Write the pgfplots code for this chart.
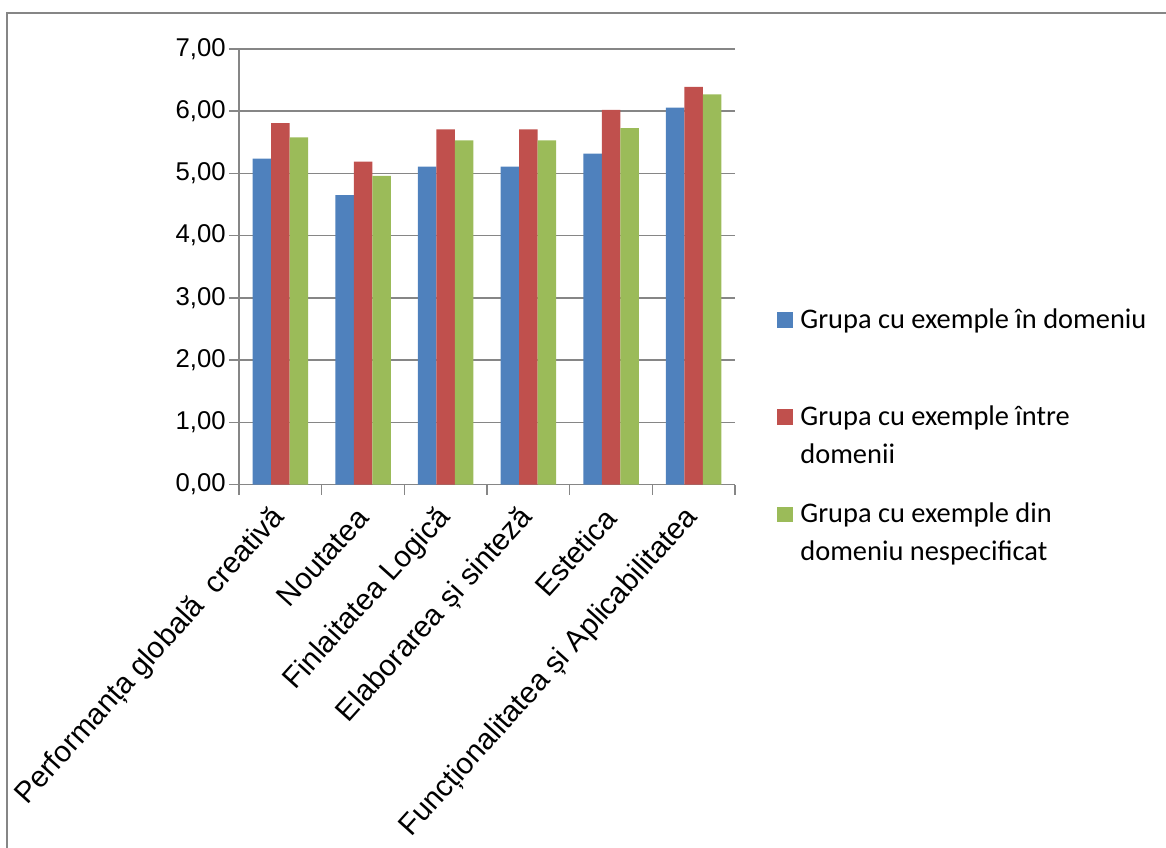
\documentclass[border=0pt]{standalone}
\usepackage{pgfplots}
\pgfplotsset{compat=1.18}
\usepackage{fontspec}
\setmainfont{Liberation Sans}
\newfontfamily\legfont{Carlito}
\definecolor{cblue}{HTML}{4F81BD}
\definecolor{cred}{HTML}{C0504D}
\definecolor{cgreen}{HTML}{9BBB59}
\definecolor{gridc}{HTML}{868686}
\newcommand\twol[2]{\begin{tabular}[t]{@{}l@{}}#1\\#2\end{tabular}}
\pgfplotsset{sqlegend/.style={legend image code/.code={\fill[##1] (0pt,0.3pt) rectangle (7.8pt,8.1pt);}}}
\begin{document}
\begin{tikzpicture}
\useasboundingbox (0,0) rectangle (583pt,-423.5pt);
\draw[gridc, line width=1pt] (3.5pt,-425pt) -- (3.5pt,-6.3pt) -- (585pt,-6.3pt);
\begin{axis}[
  at={(119.5pt,-242.25pt)}, anchor=south west,
  scale only axis, width=248pt, height=217.75pt,
  ybar=0pt, bar width=9.25pt,
  xmin=-0.5, xmax=5.5, ymin=0, ymax=7,
  axis x line*=bottom, axis y line*=left,
  axis line style={gridc, line width=0.8pt},
  ytick={0,1,2,3,4,5,6,7},
  ymajorgrids, grid style={gridc, line width=0.8pt},
  tick align=outside, major tick length=5pt,
  tick style={gridc, line width=0.8pt},
  yticklabel style={font=\fontsize{12.85}{14}\selectfont, inner sep=1.5pt, /pgf/number format/.cd, fixed, fixed zerofill, precision=2, use comma, assume math mode=true},
  xtick={-0.5,0.5,1.5,2.5,3.5,4.5,5.5}, xticklabels={},
  extra x ticks={0,1,2,3,4,5},
  extra x tick labels={Performanța globală\ \ creativă, Noutatea, Finlaitatea Logică, Elaborarea și sinteză, Estetica, Funcționalitatea și Aplicabilitatea},
  extra x tick style={major tick length=0pt, grid=none, xticklabel style={rotate=48, anchor=east, inner sep=0pt, font=\fontsize{14.8}{16}\selectfont}},
  xticklabel shift=14pt,
  every axis plot post/.append style={sqlegend},
  legend style={at={(1.0847,0.4204)}, anchor=north west, draw=none, fill=none, inner sep=0pt, font=\legfont\fontsize{14.2}{19}\selectfont, row sep=10.6pt, column sep=3.7pt, nodes={inner sep=0pt, text depth=}, cells={anchor=base west}},
]
\addplot[fill=cblue, draw=none] coordinates {(0,5.24) (1,4.65) (2,5.11) (3,5.11) (4,5.32) (5,6.06)};
\addplot[fill=cred, draw=none] coordinates {(0,5.81) (1,5.19) (2,5.71) (3,5.71) (4,6.02) (5,6.39)};
\addplot[fill=cgreen, draw=none] coordinates {(0,5.58) (1,4.96) (2,5.53) (3,5.53) (4,5.73) (5,6.27)};
\addlegendentry{\twol{Grupa cu exemple în domeniu}{\strut}}
\addlegendentry{\twol{Grupa cu exemple între}{domenii}}
\addlegendentry{\twol{Grupa cu exemple din}{domeniu nespecificat}}
\end{axis}
\end{tikzpicture}
\end{document}
